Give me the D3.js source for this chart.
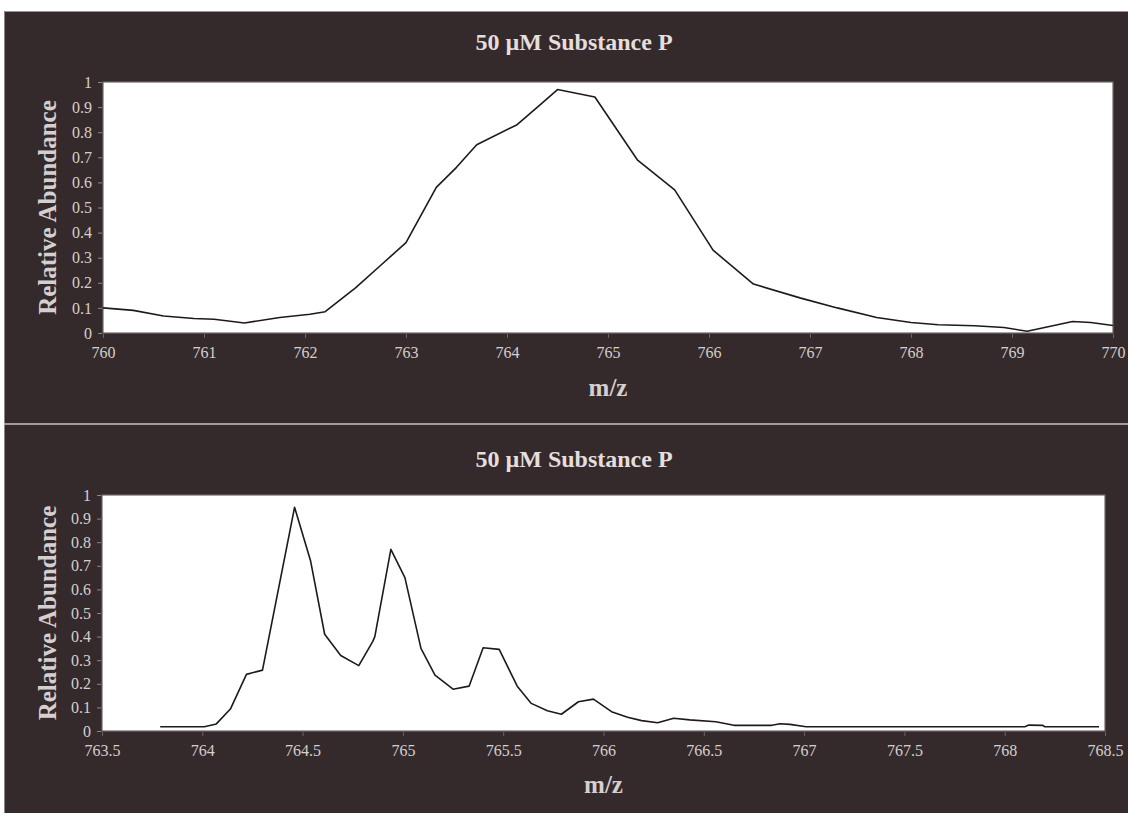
<!DOCTYPE html>
<html>
<head>
<meta charset="utf-8">
<script src="https://cdn.jsdelivr.net/npm/d3@7"></script>
<style>
  html, body { margin: 0; padding: 0; background: #ffffff; }
  svg { display: block; }
</style>
</head>
<body>
<svg id="chart" width="1128" height="817"></svg>
<script>
// ---- Data ----
const titleText = "50 \u00B5M Substance P";
const yLabelText = "Relative Abundance";
const xLabelText = "m/z";

// Top panel: broad, low-resolution profile
const topMz = [760.0, 760.3, 760.6, 760.9, 761.1, 761.4, 761.75, 762.05, 762.2, 762.5, 762.75, 763.0, 763.3, 763.5, 763.7, 764.1, 764.33, 764.5, 764.87, 765.29, 765.66, 766.04, 766.44, 766.9, 767.27, 767.66, 768.0, 768.27, 768.63, 768.92, 769.15, 769.6, 769.78, 770.0];
const topAbund = [0.10, 0.09, 0.068, 0.058, 0.055, 0.04, 0.062, 0.075, 0.085, 0.18, 0.27, 0.36, 0.58, 0.66, 0.75, 0.83, 0.91, 0.97, 0.94, 0.69, 0.57, 0.33, 0.195, 0.14, 0.10, 0.062, 0.042, 0.033, 0.029, 0.022, 0.007, 0.046, 0.042, 0.03];
const topXTicks = [760, 761, 762, 763, 764, 765, 766, 767, 768, 769, 770];

// Bottom panel: resolved isotope pattern
const botMz = [763.79, 764.01, 764.07, 764.14, 764.22, 764.25, 764.30, 764.46, 764.54, 764.61, 764.69, 764.78, 764.85, 764.86, 764.94, 765.01, 765.09, 765.16, 765.25, 765.33, 765.40, 765.48, 765.57, 765.64, 765.72, 765.79, 765.875, 765.95, 766.04, 766.12, 766.19, 766.27, 766.35, 766.43, 766.56, 766.65, 766.84, 766.88, 766.93, 767.01, 768.1, 768.12, 768.19, 768.2, 768.47];
const botAbund = [0.018, 0.018, 0.03, 0.093, 0.24, 0.247, 0.258, 0.948, 0.72, 0.41, 0.32, 0.277, 0.38, 0.40, 0.77, 0.65, 0.35, 0.237, 0.177, 0.19, 0.353, 0.346, 0.19, 0.117, 0.086, 0.071, 0.124, 0.135, 0.082, 0.058, 0.044, 0.035, 0.054, 0.047, 0.039, 0.024, 0.024, 0.031, 0.028, 0.018, 0.018, 0.025, 0.024, 0.018, 0.018];
const botXTicks = [763.5, 764, 764.5, 765, 765.5, 766, 766.5, 767, 767.5, 768, 768.5];

const yTicks = [0, 0.1, 0.2, 0.3, 0.4, 0.5, 0.6, 0.7, 0.8, 0.9, 1];

// ---- Styling ----
const BG = "#342a2b";
const TXT = "#d6cfcf";
const TITLE = "#e4dede";
const SERIF = "'Liberation Serif', 'Times New Roman', serif";

const svg = d3.select("#chart");

// dark panel
svg.append("rect")
  .attr("x", 4).attr("y", 11).attr("width", 1124).attr("height", 802)
  .attr("fill", BG);
svg.append("line")
  .attr("x1", 4).attr("x2", 1128).attr("y1", 11.5).attr("y2", 11.5)
  .attr("stroke", "#9a9494").attr("stroke-width", 1);
svg.append("line")
  .attr("x1", 4.5).attr("x2", 4.5).attr("y1", 11).attr("y2", 813)
  .attr("stroke", "#8a8484").attr("stroke-width", 1);
// separator between panels
svg.append("line")
  .attr("x1", 4).attr("x2", 1128).attr("y1", 424).attr("y2", 424)
  .attr("stroke", "#c9c2c2").attr("stroke-width", 1.5);

function drawPanel(cfg) {
  const x = d3.scaleLinear().domain(cfg.xDomain).range([cfg.left, cfg.right]);
  const y = d3.scaleLinear().domain([0, 1]).range([cfg.bottom, cfg.top]);

  // title
  svg.append("text")
    .attr("x", cfg.titleX).attr("y", cfg.titleY)
    .attr("text-anchor", "middle")
    .attr("font-family", SERIF).attr("font-weight", "bold")
    .attr("font-size", 24).attr("fill", TITLE)
    .text(titleText);

  // plot area
  svg.append("rect")
    .attr("x", cfg.left).attr("y", cfg.top)
    .attr("width", cfg.right - cfg.left).attr("height", cfg.bottom - cfg.top)
    .attr("fill", "#ffffff").attr("stroke", "#6e6868").attr("stroke-width", 1.2);

  // y axis
  const yAxis = d3.axisLeft(y).tickValues(yTicks).tickSize(4).tickPadding(6)
    .tickFormat(d => d3.format("~g")(d));
  const gy = svg.append("g").attr("transform", `translate(${cfg.left - 1},0)`).call(yAxis);
  gy.select(".domain").remove();
  gy.selectAll("line").attr("stroke", "#8d8787");
  gy.selectAll("text").attr("font-family", SERIF).attr("font-size", 16).attr("fill", TXT);

  // x axis
  const xAxis = d3.axisBottom(x).tickValues(cfg.xTicks).tickSize(4).tickPadding(9)
    .tickFormat(d => d3.format("~g")(d));
  const gx = svg.append("g").attr("transform", `translate(0,${cfg.bottom + 1})`).call(xAxis);
  gx.select(".domain").remove();
  gx.selectAll("line").attr("stroke", "#6a6363");
  gx.selectAll("text").attr("font-family", SERIF).attr("font-size", 16).attr("fill", TXT);

  // axis titles
  svg.append("text")
    .attr("transform", `translate(${cfg.yLabelX},${(cfg.top + cfg.bottom) / 2}) rotate(-90)`)
    .attr("text-anchor", "middle")
    .attr("font-family", SERIF).attr("font-weight", "bold")
    .attr("font-size", 25).attr("fill", TXT)
    .text(yLabelText);
  svg.append("text")
    .attr("x", (cfg.left + cfg.right) / 2).attr("y", cfg.xLabelY)
    .attr("text-anchor", "middle")
    .attr("font-family", SERIF).attr("font-weight", "bold")
    .attr("font-size", 25).attr("fill", TXT)
    .text(xLabelText);

  // data line
  const pts = cfg.mz.map((m, i) => [m, cfg.ab[i]]);
  svg.append("path")
    .datum(pts)
    .attr("d", d3.line().x(d => x(d[0])).y(d => y(d[1])))
    .attr("fill", "none").attr("stroke", "#1e1a1a").attr("stroke-width", 1.6)
    .attr("stroke-linejoin", "round");
}

drawPanel({
  xDomain: [760, 770], xTicks: topXTicks, mz: topMz, ab: topAbund,
  left: 103, right: 1113, top: 82, bottom: 333,
  titleX: 574, titleY: 50, yLabelX: 56, xLabelY: 396
});

drawPanel({
  xDomain: [763.5, 768.5], xTicks: botXTicks, mz: botMz, ab: botAbund,
  left: 102, right: 1105, top: 495, bottom: 731,
  titleX: 574, titleY: 467, yLabelX: 56, xLabelY: 793
});
</script>
</body>
</html>
